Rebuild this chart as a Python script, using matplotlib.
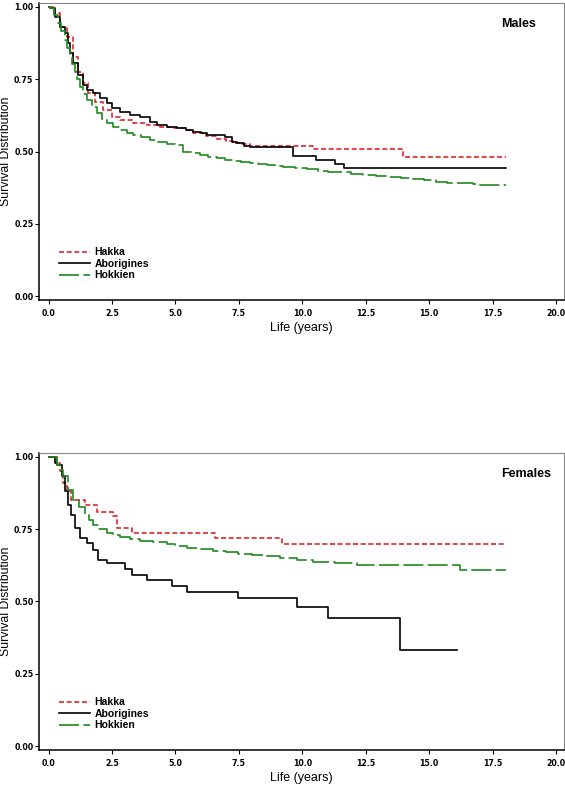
import matplotlib
matplotlib.use("Agg")
import matplotlib.pyplot as plt

# Kaplan-Meier style survival estimates (step functions)
groups = ["Hakka", "Aborigines", "Hokkien"]
panels = ["Males", "Females"]

male_hakka_t = [0, 0.2, 0.45, 0.71, 0.97, 1.17, 1.36, 1.56, 1.82, 2.15, 2.48, 2.81, 3.33, 3.86,
                4.39, 4.91, 5.4, 5.7, 6.2, 6.62, 7.0, 7.28, 7.6, 7.93, 10.43, 13.98, 18.02]
male_hakka_s = [1.0, 0.98, 0.932, 0.897, 0.828, 0.776, 0.736, 0.701, 0.672, 0.644, 0.620, 0.609,
                0.600, 0.592, 0.586, 0.580, 0.574, 0.563, 0.553, 0.545, 0.538, 0.531, 0.525,
                0.518, 0.510, 0.48, 0.48]

male_abor_t = [0, 0.05, 0.25, 0.45, 0.64, 0.77, 0.84, 0.97, 1.17, 1.36, 1.5, 1.76, 2.02, 2.29,
               2.48, 2.81, 3.2, 3.6, 3.99, 4.26, 4.65, 5.05, 5.4, 5.7, 6.0, 6.23, 6.95, 7.21,
               7.41, 7.7, 7.93, 9.64, 10.54, 11.29, 11.64, 18.02]
male_abor_s = [1.0, 0.995, 0.965, 0.932, 0.909, 0.874, 0.84, 0.805, 0.765, 0.730, 0.713, 0.701,
               0.684, 0.667, 0.649, 0.638, 0.626, 0.618, 0.603, 0.592, 0.586, 0.580, 0.575,
               0.569, 0.563, 0.557, 0.551, 0.534, 0.528, 0.520, 0.514, 0.484, 0.471, 0.457,
               0.442, 0.442]

male_hokk_t = [0, 0.05, 0.2, 0.38, 0.5, 0.64, 0.74, 0.84, 0.94, 1.04, 1.13, 1.23, 1.36, 1.5,
               1.7, 1.89, 2.1, 2.29, 2.55, 2.81, 3.07, 3.33, 3.66, 3.99, 4.32, 4.65, 4.98, 5.31,
               5.64, 5.97, 6.3, 6.62, 6.95, 7.28, 7.6, 7.93, 8.26, 8.59, 8.92, 9.25, 9.7, 10.17,
               10.6, 11.0, 11.4, 11.9, 12.4, 12.9, 13.4, 13.9, 14.36, 14.8, 15.25, 15.7, 16.2,
               16.74, 16.87, 18.02]
male_hokk_s = [1.0, 0.995, 0.972, 0.944, 0.918, 0.886, 0.857, 0.828, 0.802, 0.776, 0.750,
               0.724, 0.700, 0.678, 0.654, 0.632, 0.614, 0.598, 0.586, 0.574, 0.565, 0.557,
               0.549, 0.540, 0.533, 0.526, 0.521, 0.499, 0.494, 0.488, 0.482, 0.476, 0.471,
               0.467, 0.463, 0.459, 0.456, 0.453, 0.450, 0.447, 0.443, 0.438, 0.434, 0.431,
               0.428, 0.424, 0.419, 0.415, 0.411, 0.408, 0.404, 0.400, 0.396, 0.392, 0.390,
               0.388, 0.383, 0.383]

female_hakka_t = [0, 0.32, 0.45, 0.58, 0.71, 0.9, 1.43, 1.89, 2.55, 2.68, 3.27, 6.56, 9.2, 18.02]
female_hakka_s = [1.0, 0.979, 0.95, 0.910, 0.881, 0.852, 0.835, 0.811, 0.794, 0.754, 0.737,
                  0.718, 0.699, 0.699]

female_abor_t = [0, 0.25, 0.32, 0.51, 0.64, 0.77, 0.9, 1.04, 1.23, 1.5, 1.76, 1.96, 2.29, 3.01,
                 3.27, 3.86, 4.85, 5.44, 7.47, 9.8, 11.02, 13.85, 16.11]
female_abor_s = [1.0, 0.979, 0.973, 0.933, 0.881, 0.835, 0.8, 0.754, 0.719, 0.702, 0.679, 0.644,
                 0.632, 0.613, 0.592, 0.573, 0.553, 0.532, 0.513, 0.482, 0.444, 0.332, 0.332]

female_hokk_t = [0, 0.32, 0.45, 0.58, 0.77, 0.97, 1.2, 1.43, 1.6, 1.76, 2.0, 2.29, 2.55, 2.81,
                 3.2, 3.6, 4.1, 4.65, 5.0, 5.44, 6.0, 6.49, 7.0, 7.47, 8.0, 8.59, 9.12, 9.8,
                 10.43, 11.3, 12.14, 16.21, 18.02]
female_hokk_s = [1.0, 0.973, 0.955, 0.933, 0.887, 0.852, 0.825, 0.8, 0.782, 0.765, 0.750, 0.736,
                 0.729, 0.723, 0.716, 0.71, 0.704, 0.699, 0.692, 0.684, 0.680, 0.676, 0.670,
                 0.664, 0.661, 0.658, 0.650, 0.644, 0.638, 0.632, 0.627, 0.609, 0.609]

x_ticks = [0, 2.5, 5, 7.5, 10, 12.5, 15, 17.5, 20]
x_tick_labels = ["0.0", "2.5", "5.0", "7.5", "10.0", "12.5", "15.0", "17.5", "20.0"]
y_ticks = [0, 0.25, 0.5, 0.75, 1.0]
y_tick_labels = ["0.00", "0.25", "0.50", "0.75", "1.00"]

STYLES = {
    "Hakka": dict(color="#e0252b", lw=1.2, dashes=(3.0, 1.6)),
    "Aborigines": dict(color="black", lw=1.2),
    "Hokkien": dict(color="#1f8a1f", lw=1.2, dashes=(12, 2.6)),
}

panel_data = {
    "Males": [(male_hakka_t, male_hakka_s), (male_abor_t, male_abor_s), (male_hokk_t, male_hokk_s)],
    "Females": [(female_hakka_t, female_hakka_s), (female_abor_t, female_abor_s),
                (female_hokk_t, female_hokk_s)],
}

plt.rcParams["font.family"] = ["Liberation Sans", "DejaVu Sans"]

fig = plt.figure(figsize=(5.65, 7.88), dpi=100)
axes = [fig.add_axes([0.069, 0.619, 0.929, 0.377]),
        fig.add_axes([0.069, 0.048, 0.929, 0.377])]

for ax, panel in zip(axes, panels):
    for name, (t, s) in zip(groups, panel_data[panel]):
        ax.plot(t, s, drawstyle="steps-post", label=name, **STYLES[name])

    ax.set_xlim(-0.38, 20.31)
    ax.set_ylim(-0.014, 1.013)
    ax.set_xticks(x_ticks)
    ax.set_xticklabels(x_tick_labels)
    ax.set_yticks(y_ticks)
    ax.set_yticklabels(y_tick_labels)
    for lab in ax.get_xticklabels() + ax.get_yticklabels():
        lab.set_family("DejaVu Sans")
        lab.set_fontstretch("condensed")
        lab.set_fontweight("bold")
        lab.set_fontsize(6.3)
    ax.tick_params(axis="x", direction="out", length=3, width=0.8, pad=3)
    ax.tick_params(axis="y", direction="out", length=3, width=0.8, pad=1)

    for side in ("top", "right"):
        ax.spines[side].set_color("#888888")
        ax.spines[side].set_linewidth(0.8)
    for side in ("left", "bottom"):
        ax.spines[side].set_color("black")
        ax.spines[side].set_linewidth(1.1)

    ax.set_xlabel("Life (years)", fontsize=9, labelpad=3)
    ax.set_ylabel("Survival Distribution", fontsize=8.8)
    ax.yaxis.set_label_coords(-0.051, 0.5)
    ax.text(0.88, 0.95, panel, transform=ax.transAxes, ha="left", va="top",
            fontsize=9, fontweight="bold")

    ax.legend(loc="lower left", bbox_to_anchor=(0.02, 0.035), frameon=False,
              handlelength=3.0, handletextpad=0.4, labelspacing=0.15,
              prop=dict(size=7.5, weight="bold"))

fig.savefig("out.png", dpi=100)
